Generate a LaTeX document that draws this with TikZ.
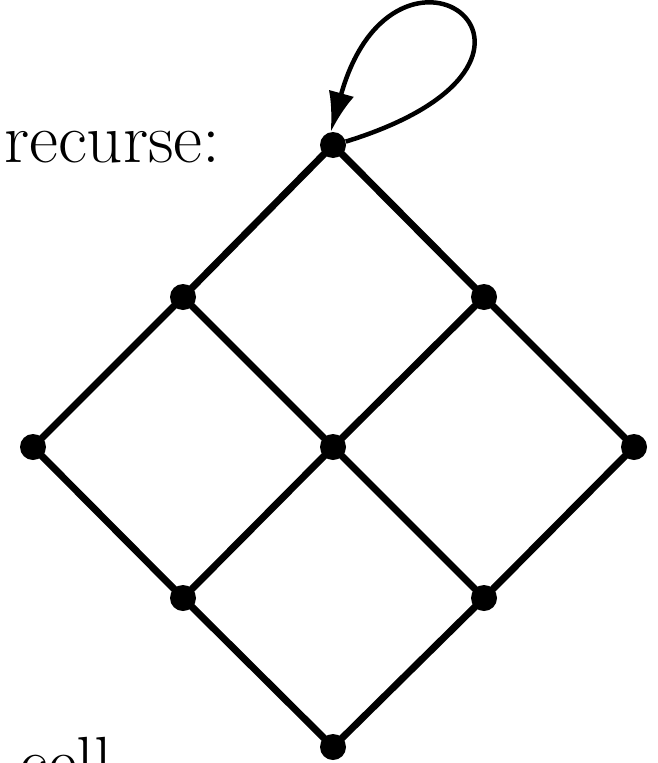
\documentclass[tikz,border=0pt]{standalone}
\usetikzlibrary{arrows.meta}
\begin{document}
\begin{tikzpicture}[x=1pt,y=1pt,
  dot/.style={circle,fill=black,inner sep=0pt,minimum size=26pt},
  edge/.style={line width=7pt},
  loopline/.style={line width=4.5pt,-{Latex[length=40pt,width=26pt]}},
  lbl/.style={inner sep=0pt,anchor=base west,font=\fontsize{71}{71}\selectfont}]
\useasboundingbox (0,0) rectangle (658,-763);
\node[dot] (a) at (333,-145) {};
\node[dot] (b) at (183,-297) {};
\node[dot] (c) at (484,-297) {};
\node[dot] (d) at (33,-447) {};
\node[dot] (e) at (333,-447) {};
\node[dot] (f) at (634,-447) {};
\node[dot] (g) at (183,-598) {};
\node[dot] (h) at (484,-598) {};
\node[dot] (i) at (333,-747) {};
\draw[edge] (a.center) -- (b.center) -- (d.center) -- (g.center) -- (i.center) -- (h.center) -- (f.center) -- (c.center) -- cycle;
\draw[edge] (b.center) -- (e.center) -- (h.center);
\draw[edge] (c.center) -- (e.center) -- (g.center);
\draw[loopline] (a.15) .. controls (610,-60) and (395,100) .. (a.100);
\node[lbl] (r) at (4,-162) {recurse:};
\node[lbl] (s) at (19,-786) {cell};
\end{tikzpicture}
\end{document}
